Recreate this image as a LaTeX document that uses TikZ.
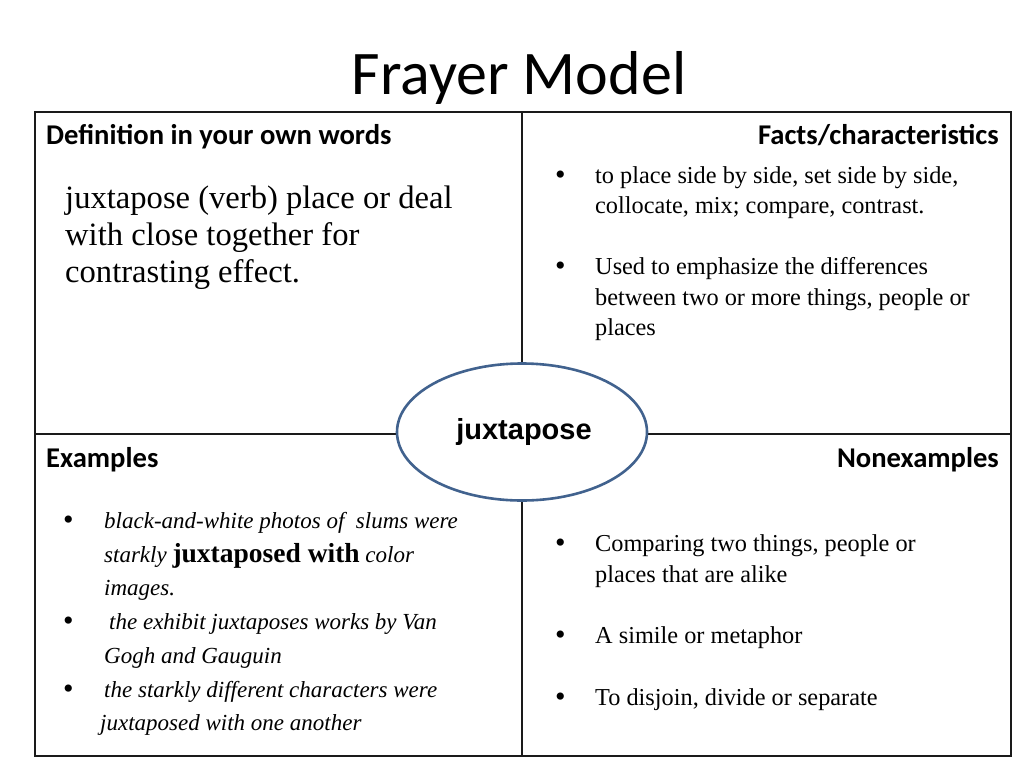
\documentclass[tikz,border=0pt]{standalone}
\usepackage{fontspec}
\setmainfont{Liberation Serif}
\newfontfamily\calib{Carlito}
\newfontfamily\arialf{Liberation Sans}
\usetikzlibrary{shapes.geometric}
\definecolor{ellblue}{HTML}{41628E}
\definecolor{gridline}{HTML}{1A1A1A}
\begin{document}
\begin{tikzpicture}[x=1pt,y=-1pt,
  grid/.style={draw=gridline,line width=1.4pt},
  titletext/.style={inner sep=0,anchor=base,font=\calib\fontsize{62}{64}\selectfont},
  hd/.style={inner sep=0,anchor=base west,font=\calib\bfseries\fontsize{28.6}{30}\selectfont},
  hdr/.style={hd,anchor=base east},
  deftext/.style={inner sep=0,anchor=base west,font=\fontsize{32.6}{34}\selectfont},
  bodytext/.style={inner sep=0,anchor=base west,font=\fontsize{24.3}{26}\selectfont},
  ittext/.style={inner sep=0,anchor=base west,font=\itshape\fontsize{23}{25}\selectfont},
  bul/.style={inner sep=0,anchor=base west,font=\fontsize{30}{32}\selectfont},
  centre/.style={ellipse,draw=ellblue,line width=2.6pt,fill=white,inner sep=0,
    minimum width=250pt,minimum height=137pt,font=\arialf\bfseries\fontsize{29}{30}\selectfont}
]
\useasboundingbox[fill=white] (0,0) rectangle (1024,768);

% grid
\coordinate (tl) at (35,112);
\coordinate (br) at (1011,756);
\coordinate (ml) at (35,434);
\coordinate (mr) at (1011,434);
\coordinate (mt) at (522,112);
\coordinate (mb) at (522,756);
\draw[grid] (tl) rectangle (br);
\draw[grid] (ml) -- (mr);
\draw[grid] (mt) -- (mb);

% title
\node[titletext] (title) at (519,94) {Frayer Model};

% headers
\node[hd] (hdef) at (46,144) {Definition in your own words};
\node[hdr] (hfact) at (999,144) {Facts/characteristics};
\node[hd] (hex) at (46,467) {Examples};
\node[hdr] (hnon) at (999,467) {Nonexamples};

% definition
\node[deftext] (d1) at (65,208) {juxtapose (verb) place or deal};
\node[deftext] (d2) at (65,245) {with close together for};
\node[deftext] (d3) at (65,282) {contrasting effect.};

% facts
\node[bul] (fb1) at (555,184) {•};
\node[bodytext] (f1) at (595,183) {to place side by side, set side by side,};
\node[bodytext] (f2) at (595,213) {collocate, mix; compare, contrast.};
\node[bul] (fb2) at (555,275) {•};
\node[bodytext] (f3) at (595,274) {Used to emphasize the differences};
\node[bodytext] (f4) at (595,305) {between two or more things, people or};
\node[bodytext] (f5) at (595,335) {places};

% examples
\node[bul] (eb1) at (63,529) {•};
\node[ittext] (e1) at (104,528) {black-and-white photos of\ \ slums were};
\node[ittext] (e2) at (104,562) {starkly {\upshape\bfseries\fontsize{27.5}{28}\selectfont juxtaposed with} color};
\node[ittext] (e3) at (104,595) {images.};
\node[bul] (eb2) at (63,630) {•};
\node[ittext] (e4) at (109,629) {the exhibit juxtaposes works by Van};
\node[ittext] (e5) at (104,663) {Gogh and Gauguin};
\node[bul] (eb3) at (63,698) {•};
\node[ittext] (e6) at (104,697) {the starkly different characters were};
\node[ittext] (e7) at (100,730) {juxtaposed with one another};

% nonexamples
\node[bul] (nb1) at (555,552) {•};
\node[bodytext] (n1) at (595,551) {Comparing two things, people or};
\node[bodytext] (n2) at (595,582) {places that are alike};
\node[bul] (nb2) at (555,644) {•};
\node[bodytext] (n3) at (595,643) {A simile or metaphor};
\node[bul] (nb3) at (555,706) {•};
\node[bodytext] (n4) at (595,705) {To disjoin, divide or separate};

% centre
\node[centre] (word) at (522,432) {\hspace*{4pt}juxtapose};
\end{tikzpicture}
\end{document}
